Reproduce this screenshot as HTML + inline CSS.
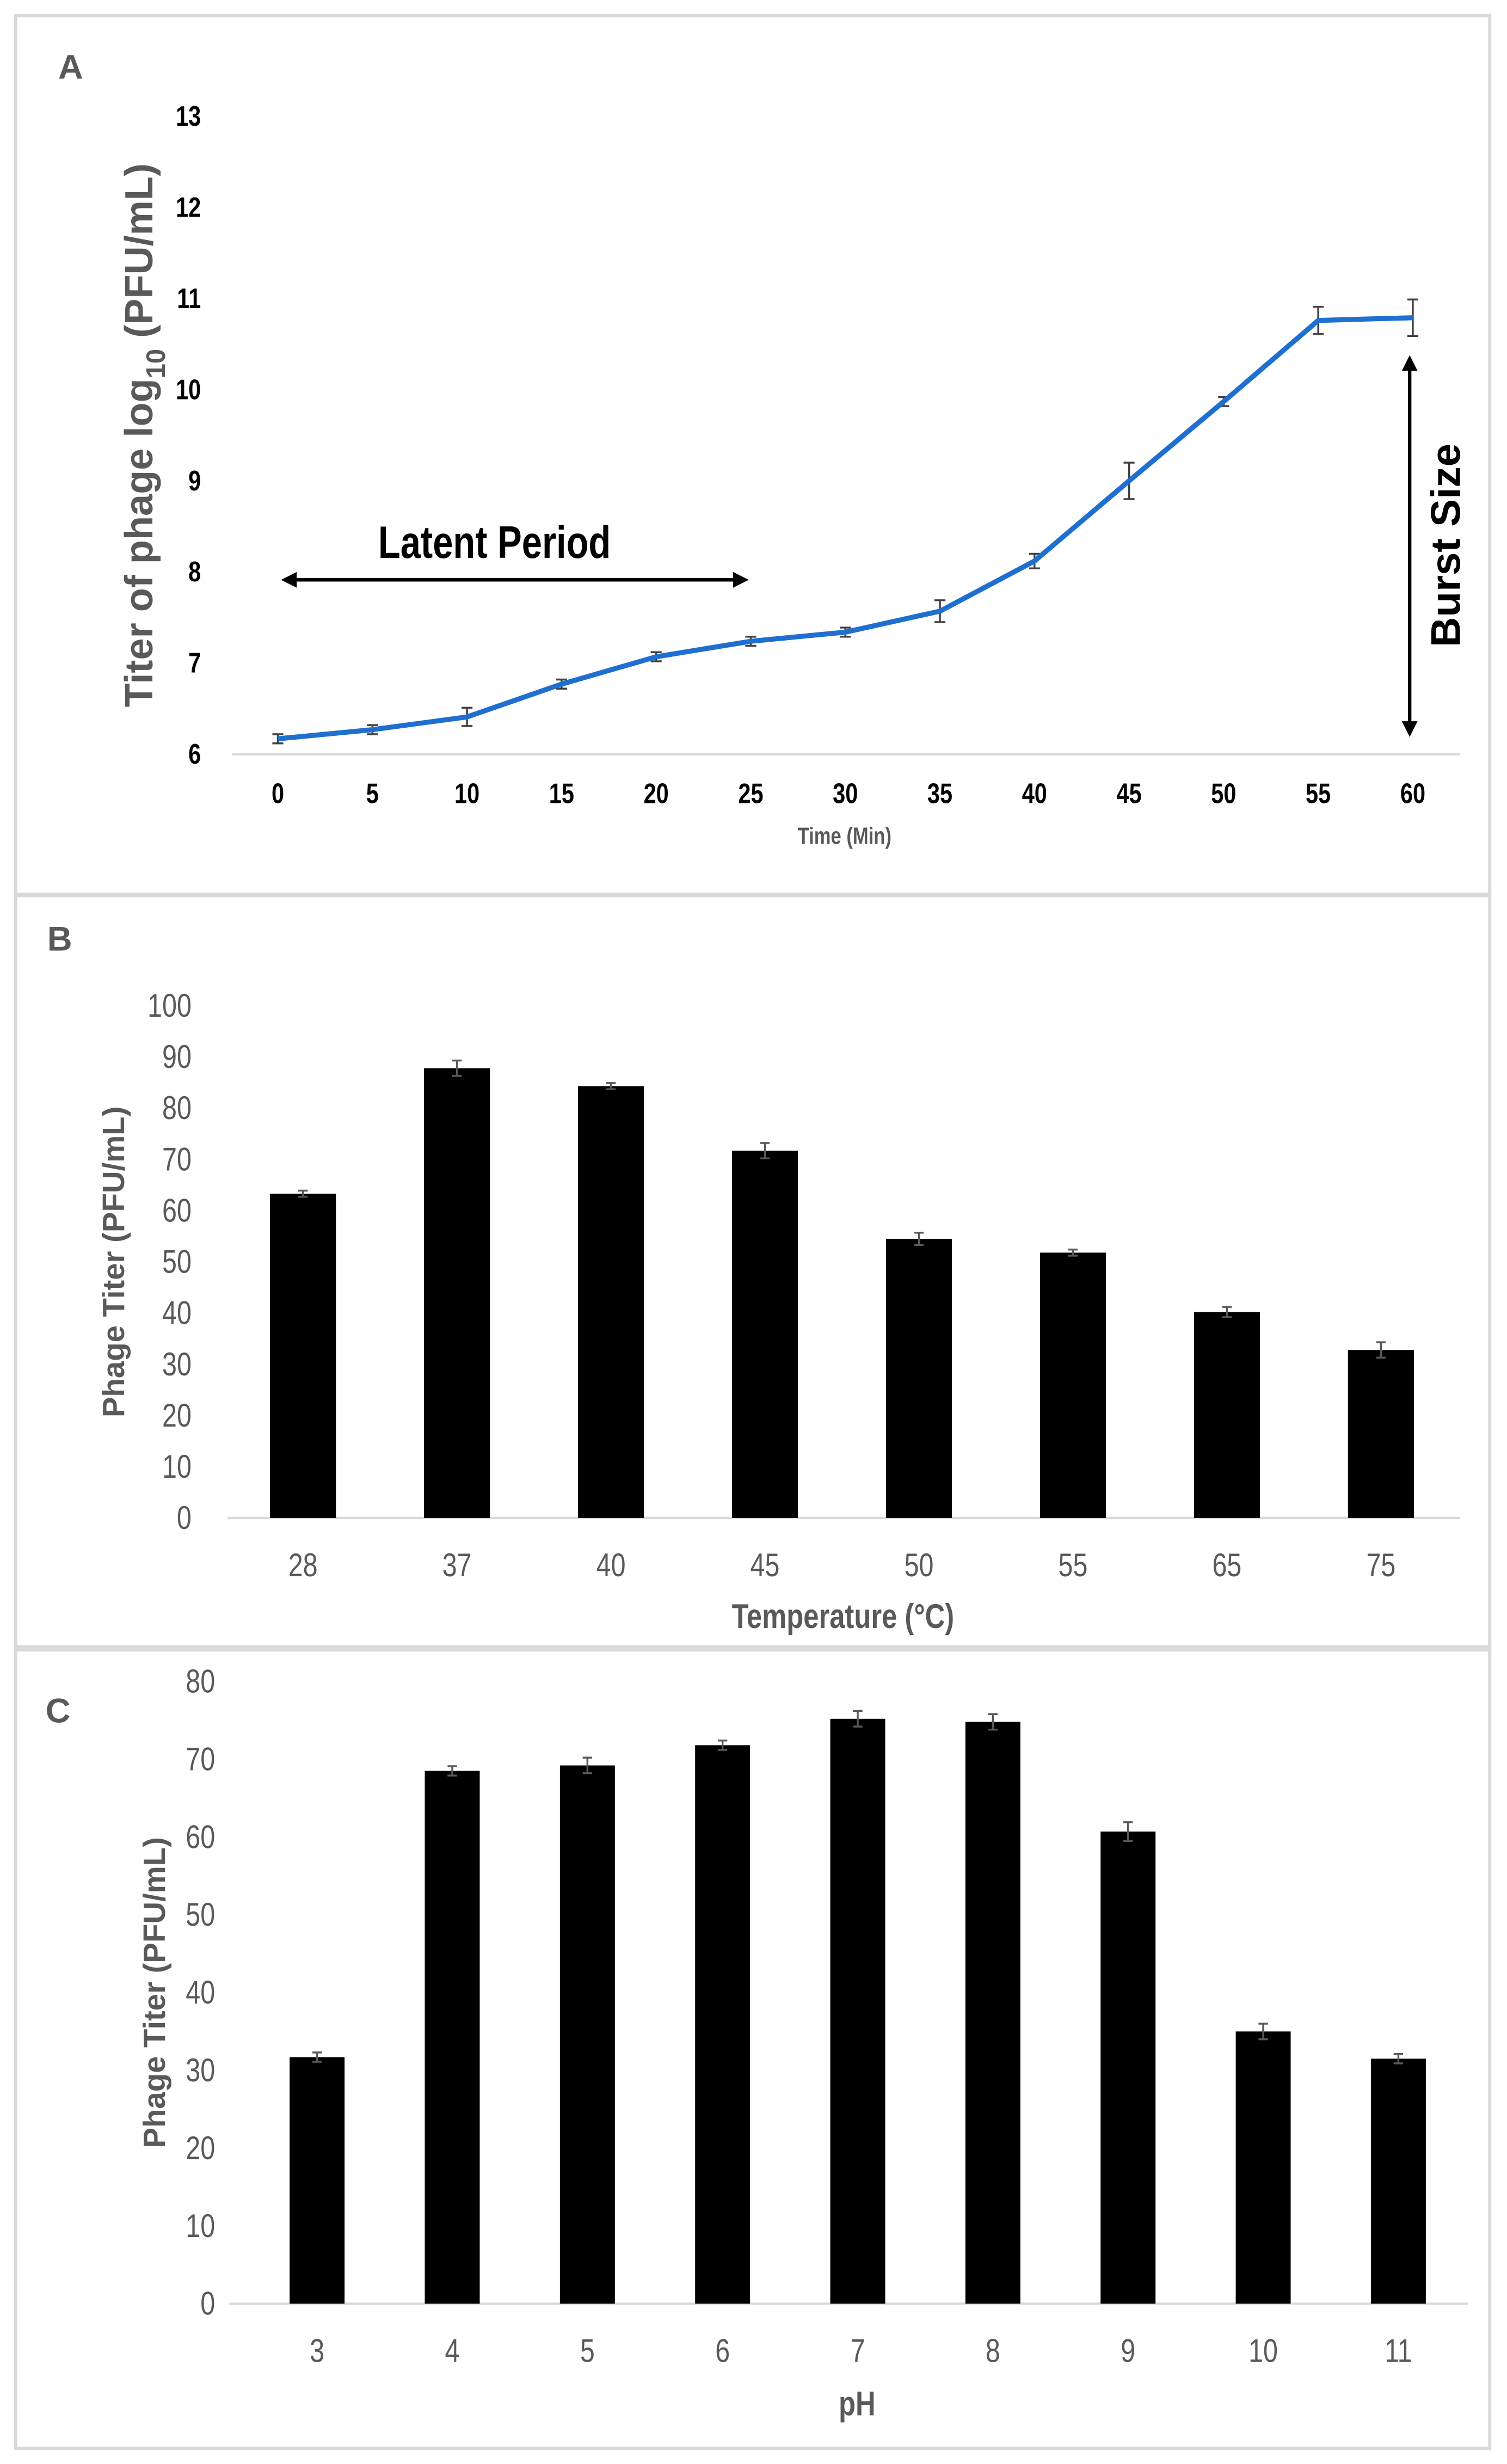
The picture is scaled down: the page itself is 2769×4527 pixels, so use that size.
<!DOCTYPE html>
<html><head><meta charset="utf-8"><style>
html,body{margin:0;padding:0;background:#fff;}
svg{display:block;}
text{font-family:"Liberation Sans",sans-serif;}
</style></head><body>
<svg id="fig" width="2769" height="4527" viewBox="0 0 960 1568" preserveAspectRatio="none" xmlns="http://www.w3.org/2000/svg">
<rect x="0" y="0" width="960" height="1568" fill="#fff"/>
<rect x="10" y="10" width="939" height="559" fill="none" stroke="#d9d9d9" stroke-width="2"/>
<rect x="10" y="570" width="939" height="478" fill="none" stroke="#d9d9d9" stroke-width="2"/>
<rect x="10" y="1050" width="939" height="508" fill="none" stroke="#d9d9d9" stroke-width="2"/>
<g id="ga"></g><g id="gb"></g><g id="gc"></g>
</svg>
<script>
// Panel A data
const timeCats = [0,5,10,15,20,25,30,35,40,45,50,55,60];
const titerVals = [6.17,6.27,6.41,6.77,7.07,7.24,7.34,7.57,8.12,9.0,9.87,10.76,10.79];
const titerErr = [0.05,0.05,0.1,0.05,0.05,0.05,0.05,0.12,0.08,0.2,0.05,0.15,0.2];
const aTicks = [6,7,8,9,10,11,12,13];
// Panel B data
const tempCats = ["28","37","40","45","50","55","65","75"];
const tempVals = [63.3,87.8,84.3,71.7,54.5,51.8,40.2,32.8];
const tempErr = [0.6,1.5,0.6,1.5,1.2,0.6,1.0,1.5];
const bTicks = [0,10,20,30,40,50,60,70,80,90,100];
// Panel C data
const phCats = ["3","4","5","6","7","8","9","10","11"];
const phVals = [31.7,68.5,69.2,71.8,75.2,74.8,60.7,35.0,31.5];
const phErr = [0.6,0.6,1.0,0.6,1.0,1.0,1.2,1.0,0.6];
const cTicks = [0,10,20,30,40,50,60,70,80];

const NS="http://www.w3.org/2000/svg";
function mk(parent,tag,attrs,txt){const e=document.createElementNS(NS,tag);for(const k in attrs)e.setAttribute(k,attrs[k]);if(txt!==undefined)e.textContent=txt;parent.appendChild(e);return e;}
function narrow(parent,x,y,attrs,txt){
  const g=mk(parent,'g',{transform:`translate(${x},${y}) scale(0.8,1)`});
  return mk(g,'text',Object.assign({x:0,y:0},attrs),txt);
}
function errBar(g,x,y1,y2,w,color){
  const e=mk(g,'path',{d:`M${x},${y1}V${y2}M${x-w},${y1}H${x+w}M${x-w},${y2}H${x+w}`,stroke:color,'stroke-width':1.2,fill:'none'});
  
  
}

// ---------- Panel A ----------
(function(){
  const g=document.getElementById('ga');
  const yS=v=>480-(v-6)*58, xS=t=>177+(t/60)*(900-177);
  let t=mk(g,'text',{x:45,y:50,'font-size':22,'font-weight':'bold',fill:'#595959','text-anchor':'middle'},'A');
  
  let ax=mk(g,'line',{x1:148,x2:930,y1:480,y2:480,stroke:'#d9d9d9','stroke-width':1.5});
  
  aTicks.forEach(v=>{const e=narrow(g,128,yS(v)+6,{'font-size':18,'font-weight':'bold',fill:'#000','text-anchor':'end'},String(v));
    });
  timeCats.forEach(c=>{const e=narrow(g,xS(c),511,{'font-size':18,'font-weight':'bold',fill:'#000','text-anchor':'middle'},String(c));
    });
  t=narrow(g,538,537,{'font-size':15,'font-weight':'bold',fill:'#595959','text-anchor':'middle'},'Time  (Min)');
  
  t=mk(g,'text',{transform:'translate(97,277) rotate(-90)','font-size':25,'font-weight':'bold',fill:'#595959','text-anchor':'middle'});
  t.innerHTML='Titer of phage log<tspan font-size="17" dy="8">10</tspan><tspan dy="-8"> (PFU/mL)</tspan>';
  
  titerVals.forEach((v,i)=>errBar(g,xS(timeCats[i]),yS(v+titerErr[i]),yS(v-titerErr[i]),3.5,'#404040'));
  const pts=titerVals.map((v,i)=>`${xS(timeCats[i])},${yS(v)}`).join(' ');
  const pl=mk(g,'polyline',{points:pts,fill:'none',stroke:'#1f6fd0','stroke-width':3.2,'stroke-linejoin':'round'});
  
  t=narrow(g,315,355,{'font-size':29,'font-weight':'bold',fill:'#000','text-anchor':'middle'},'Latent Period');
  
  let a=mk(g,'path',{d:'M186,369H470',stroke:'#000','stroke-width':2.2});
  
  mk(g,'path',{d:'M179,369L189,364L189,374Z M477,369L467,364L467,374Z',fill:'#000'});
  t=mk(g,'text',{transform:'translate(930,347) rotate(-90)','font-size':26.5,'font-weight':'bold',fill:'#000','text-anchor':'middle'},'Burst Size');
  
  a=mk(g,'path',{d:'M898,234V461',stroke:'#000','stroke-width':2.2});
  
  mk(g,'path',{d:'M898,226L893,236L903,236Z M898,469L893,459L903,459Z',fill:'#000'});
})();

// ---------- Bar panel helper ----------
function barPanel(gid,cfg){
  const g=document.getElementById(gid);
  const yS=v=>cfg.y0-(v/cfg.max)*(cfg.y0-cfg.yTop);
  const xS=i=>cfg.x0+i*cfg.step;
  let t=mk(g,'text',{x:cfg.lx,y:cfg.ly,'font-size':22,'font-weight':'bold',fill:'#595959','text-anchor':'middle'},cfg.letter);
  
  const ax=mk(g,'line',{x1:cfg.axL,x2:cfg.axR,y1:cfg.y0,y2:cfg.y0,stroke:'#d9d9d9','stroke-width':1.5});
  
  cfg.ticks.forEach(v=>{const e=narrow(g,cfg.tickX,yS(v)+7,{'font-size':21,fill:'#595959','text-anchor':'end'},String(v));
    });
  cfg.cats.forEach((c,i)=>{
    const r=mk(g,'rect',{x:xS(i)-cfg.bw/2,y:yS(cfg.vals[i]),width:cfg.bw,height:cfg.y0-yS(cfg.vals[i]),fill:'#000'});
    
    errBar(g,xS(i),yS(cfg.vals[i]+cfg.err[i]),yS(cfg.vals[i]-cfg.err[i]),3,'#595959');
    const e=narrow(g,xS(i),cfg.y0+37,{'font-size':21,fill:'#595959','text-anchor':'middle'},c);
    
  });
  t=narrow(g,cfg.xtX,cfg.xtY,{'font-size':22,'font-weight':'bold',fill:'#595959','text-anchor':'middle'},cfg.xTitle);
  
  t=mk(g,'text',{transform:`translate(${cfg.ytX},${cfg.ytY}) rotate(-90)`,'font-size':19.5,'font-weight':'bold',fill:'#595959','text-anchor':'middle'},'Phage Titer (PFU/mL)');
  
}
barPanel('gb',{letter:'B',letterName:'panel-b-label',lx:38,ly:605,cats:tempCats,vals:tempVals,err:tempErr,ticks:bTicks,max:100,
  y0:966,yTop:640,x0:193,step:98.1,bw:42,axL:145,axR:930,tickX:122,xTitle:'Temperature (°C)',xtX:537,xtY:1036,ytX:79,ytY:803});
barPanel('gc',{letter:'C',letterName:'panel-c-label',lx:37,ly:1096,cats:phCats,vals:phVals,err:phErr,ticks:cTicks,max:80,
  y0:1466,yTop:1070,x0:202,step:86.1,bw:35,axL:146,axR:935,tickX:137,xTitle:'pH',xtX:546,xtY:1537,ytX:105,ytY:1268});
</script>
</body></html>
